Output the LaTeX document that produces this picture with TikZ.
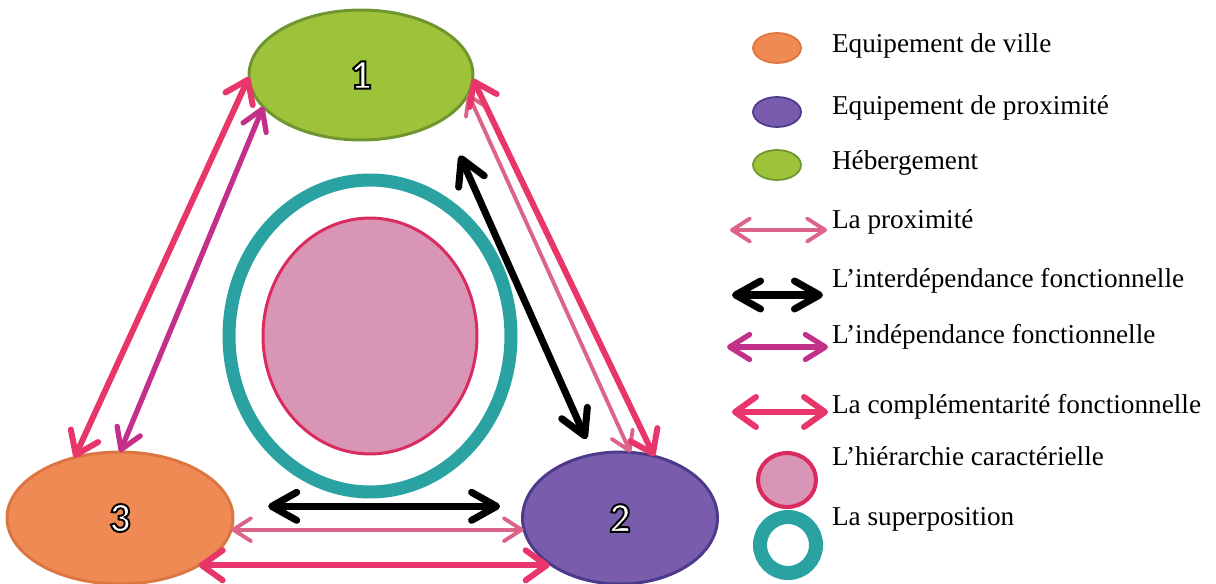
\documentclass[tikz,border=0pt]{standalone}
\usepackage{fontspec}
\setmainfont{Liberation Serif}
\newfontfamily\numfont{Carlito}
\usetikzlibrary{arrows.meta,shapes.geometric,positioning}
\definecolor{hebergreen}{RGB}{157,195,59}
\definecolor{hebergreendark}{RGB}{111,150,46}
\definecolor{villeorange}{RGB}{240,138,84}
\definecolor{villeorangedark}{RGB}{219,118,66}
\definecolor{proxpurple}{RGB}{122,92,172}
\definecolor{proxpurpledark}{RGB}{76,58,140}
\definecolor{complred}{RGB}{232,54,106}
\definecolor{proxpink}{RGB}{220,100,136}
\definecolor{indepmagenta}{RGB}{194,48,138}
\definecolor{superteal}{RGB}{42,162,162}
\definecolor{hierpink}{RGB}{217,149,181}
\definecolor{hierred}{RGB}{217,43,94}

% white digit with a black outline
\newcommand{\numlabel}[1]{{\numfont\bfseries\fontsize{24}{24}\selectfont\color{white}%
  \special{pdf:literal direct q 0 0 0 RG 2 Tr 1.1 w}#1\special{pdf:literal direct Q}}}

\begin{document}
\begin{tikzpicture}[
    x=0.02cm, y=-0.02cm,
    every node/.style={inner sep=0pt, outer sep=0pt},
    blob/.style={ellipse, line width=1.7pt},
    ville/.style={blob, draw=villeorangedark, fill=villeorange},
    proxi/.style={blob, draw=proxpurpledark, fill=proxpurple},
    heberg/.style={blob, draw=hebergreendark, fill=hebergreen},
    lien/.style={<->, line cap=round},
    liencompl/.style={lien, draw=complred, line width=3.4pt, >={Straight Barb[length=0.42cm,width=0.6cm,round]}},
    lienprox/.style={lien, draw=proxpink, line width=2.2pt, >={Straight Barb[length=0.36cm,width=0.46cm,round]}},
    lieninter/.style={lien, draw=black, line width=4pt, >={Straight Barb[length=0.5cm,width=0.56cm,round]}},
    lienindep/.style={lien, draw=indepmagenta, line width=3pt, >={Straight Barb[length=0.4cm,width=0.5cm,round]}},
    legtext/.style={anchor=base west, font=\fontsize{15.5}{18}\selectfont}
]
\useasboundingbox (0,0) rectangle (1216,584);

% the three kinds of facilities
\node[heberg, minimum width=4.48cm, minimum height=2.6cm] (heb) at (361,75) {\numlabel{1}};
\node[ville, minimum width=4.52cm, minimum height=2.64cm] (ville) at (120,518) {\numlabel{3}};
\node[proxi, minimum width=3.9cm, minimum height=2.64cm] (prox) at (620,518) {\numlabel{2}};

% centre
\node[ellipse, draw=superteal, line width=7.4pt, minimum width=5.64cm, minimum height=6.24cm] (super) at (370,336) {};
\node[ellipse, draw=hierred, fill=hierpink, line width=1.7pt, minimum width=4.28cm, minimum height=4.72cm] (hier) at (370,336) {};

% links
\draw[liencompl] (ville.127) -- (heb.181);
\draw[lienindep] (ville.90) -- (heb.198);
\draw[lieninter, shorten <=0.8cm, shorten >=0.34cm] (heb.-28) -- (prox.113);
\draw[lienprox] (heb.-10) -- (prox.81);
\draw[liencompl] (heb.-2) -- (prox.61);
\draw[lieninter, shorten <=0.74cm, shorten >=0.48cm] (ville.6) -- (ville.6 -| prox.173);
\draw[lienprox] (ville.-6) -- (ville.-6 -| prox.186);
\draw[liencompl] (ville.-31) -- (ville.-31 -| prox.213);

% legend
\node[ville, minimum width=0.96cm, minimum height=0.6cm, line width=1pt] (lg-ville) at (777,48) {};
\node[proxi, minimum width=0.96cm, minimum height=0.6cm, line width=1pt] (lg-prox) at (777,112) {};
\node[heberg, minimum width=0.96cm, minimum height=0.6cm, line width=1pt] (lg-heb) at (777,165) {};
\node[legtext] (tx-ville) at (832,53) {Equipement de ville};
\node[legtext] (tx-prox) at (832,115) {Equipement de proximité};
\node[legtext] (tx-heb) at (832,170) {Hébergement};

\coordinate (lp-a) at (730,230); \coordinate (lp-b) at (827,230);
\coordinate (li-a) at (732,295); \coordinate (li-b) at (823,295);
\coordinate (ld-a) at (727,347); \coordinate (ld-b) at (828,347);
\coordinate (lc-a) at (732,412); \coordinate (lc-b) at (828,412);
\draw[lienprox] (lp-a) -- (lp-b);
\draw[lieninter] (li-a) -- (li-b);
\draw[lienindep] (ld-a) -- (ld-b);
\draw[liencompl] (lc-a) -- (lc-b);
\node[legtext] (tx-lp) at (832,228) {La proximité};
\node[legtext] (tx-li) at (832,287) {L’interdépendance fonctionnelle};
\node[legtext] (tx-ld) at (832,343) {L’indépendance fonctionnelle};
\node[legtext] (tx-lc) at (832,413) {La complémentarité fonctionnelle};

\node[ellipse, draw=hierred, fill=hierpink, line width=2.3pt, minimum width=1.16cm, minimum height=1.08cm] (lg-hier) at (787,480) {};
\node[circle, draw=superteal, line width=8pt, minimum size=1.12cm] (lg-super) at (788,545) {};
\node[legtext] (tx-hier) at (832,465) {L’hiérarchie caractérielle};
\node[legtext] (tx-super) at (832,525) {La superposition};

\end{tikzpicture}
\end{document}
